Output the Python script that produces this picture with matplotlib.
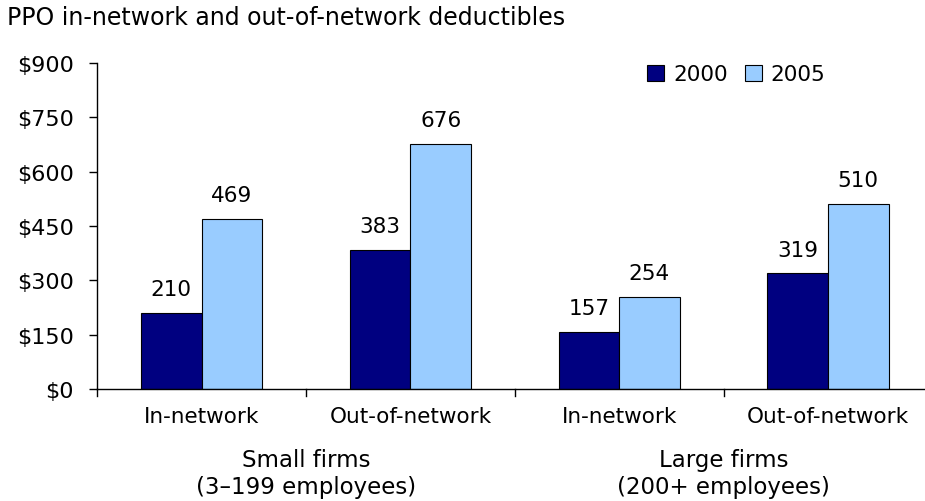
import matplotlib.pyplot as plt
import numpy as np

# PPO deductibles by firm size and network type
categories = ["In-network", "Out-of-network", "In-network", "Out-of-network"]
groups = ["Small firms\n(3\u2013199 employees)", "Large firms\n(200+ employees)"]
years = ["2000", "2005"]
values_2000 = [210, 383, 157, 319]
values_2005 = [469, 676, 254, 510]
yticks = [0, 150, 300, 450, 600, 750, 900]

plt.rcParams["font.family"] = "DejaVu Sans"

fig = plt.figure(figsize=(9.25, 5.02), dpi=100)
# the last category runs slightly past the right edge of the figure
ax = fig.add_axes([0.105, 0.223, 0.903, 0.6495])

x = np.arange(len(categories))
w = 0.29
b1 = ax.bar(x - w / 2, values_2000, w, color="#000080", edgecolor="black", linewidth=0.8, label=years[0])
b2 = ax.bar(x + w / 2, values_2005, w, color="#99CCFF", edgecolor="black", linewidth=0.8, label=years[1])

for bars, vals in [(b1, values_2000), (b2, values_2005)]:
    for rect, v in zip(bars, vals):
        ax.annotate(str(v), (rect.get_x() + rect.get_width() / 2, v),
                    xytext=(0, 10), textcoords="offset points",
                    ha="center", va="bottom", fontsize=15.5)

ax.set_xlim(-0.5, len(categories) - 0.5)
ax.set_ylim(0, 900)
ax.set_yticks(yticks)
ax.set_yticklabels(["$%d" % t for t in yticks], fontsize=16)
ax.tick_params(axis="y", direction="out", length=6, width=1, pad=11)

# category labels, with tick marks at the group boundaries
ax.set_xticks(x)
ax.set_xticklabels(categories, fontsize=15.5)
ax.tick_params(axis="x", length=0, pad=12)
for b in np.arange(-0.5, len(categories), 1.0):
    ax.plot([b, b], [0, -0.022], color="black", lw=1, transform=ax.get_xaxis_transform(), clip_on=False)

for i, g in enumerate(groups):
    ax.text(2 * i + 0.5, -0.18, g, transform=ax.get_xaxis_transform(),
            ha="center", va="top", fontsize=16.5, linespacing=1.23)

for s in ["top", "right"]:
    ax.spines[s].set_visible(False)
ax.spines["left"].set_linewidth(1)
ax.spines["bottom"].set_linewidth(1)

ax.legend(loc="upper right", bbox_to_anchor=(0.895, 1.055), ncol=2, frameon=False,
          fontsize=15.5, handlelength=0.8, handleheight=0.8, handletextpad=0.4,
          columnspacing=0.8)

fig.text(0.008, 0.965, "PPO in-network and out-of-network deductibles", fontsize=17,
         ha="left", va="center")

fig.savefig("out.png", dpi=100)
